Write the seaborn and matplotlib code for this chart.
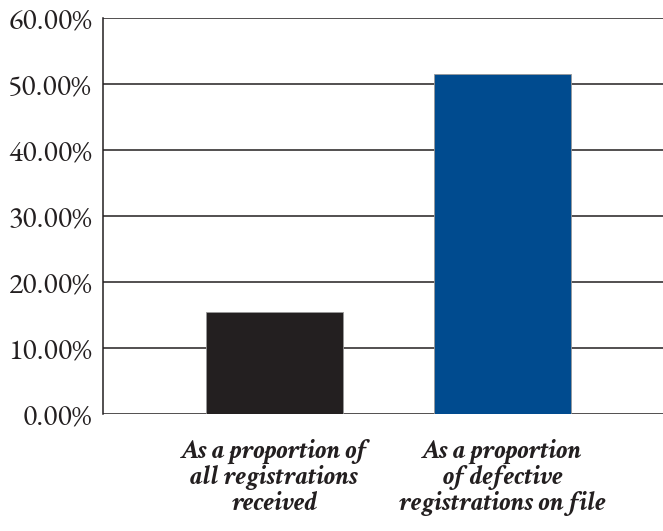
import matplotlib
matplotlib.use("Agg")
import matplotlib.pyplot as plt
import seaborn as sns
import pandas as pd
from matplotlib.ticker import FuncFormatter, MultipleLocator

categories = ["As a proportion of\nall registrations\nreceived",
              "As a proportion\nof defective\nregistrations on file"]
values = [15.5, 51.45]
colors = ["#231f20", "#004b8f"]

sns.set_theme(style="white")
plt.rcParams['font.family'] = ['EB Garamond', 'Liberation Serif', 'DejaVu Serif']

df = pd.DataFrame({"cat": categories, "val": values})

fig = plt.figure(figsize=(6.63, 5.31), dpi=100)
ax = fig.add_axes([103/663, (531-414)/531, 1 - 103/663, (414-18)/531])

sns.barplot(data=df, x="cat", y="val", hue="cat", palette=colors, legend=False,
            width=0.6035, ax=ax, saturation=1, edgecolor="#999999", linewidth=0.6, zorder=3)

ax.set_ylim(0, 60)
ax.set_xlim(-0.752, 1.704)
ax.yaxis.set_major_locator(MultipleLocator(10))
ax.yaxis.set_major_formatter(FuncFormatter(lambda v, p: f"{v:.2f}%"))
ax.grid(axis="y", color="#231f20", linewidth=1.1, zorder=0)
ax.set_axisbelow(True)
for s in ["top", "right", "bottom"]:
    ax.spines[s].set_visible(False)
ax.spines["left"].set_color("#231f20")
ax.spines["left"].set_linewidth(1.1)
ax.set_xlabel("")
ax.set_ylabel("")
ax.tick_params(axis="y", length=0, pad=8, labelsize=21.5, labelcolor="#231f20")
ax.tick_params(axis="x", length=0, pad=18)
ax.set_xticks(range(len(categories)))
ax.set_xticklabels(categories, fontsize=20, fontweight="bold", fontstyle="italic",
                   family=['Crimson Text', 'EB Garamond', 'DejaVu Serif'],
                   color="#231f20", linespacing=1.05)

fig.savefig("out.png", dpi=100)
